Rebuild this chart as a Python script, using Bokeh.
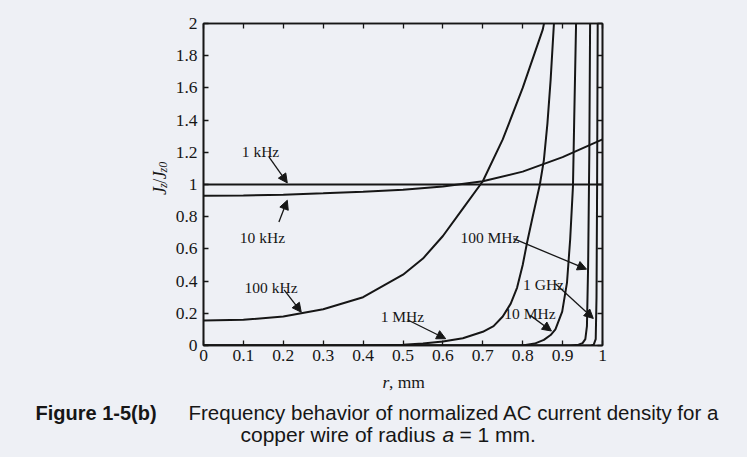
import math
from bokeh.plotting import figure
from bokeh.layouts import column, row
from bokeh.models import (Range1d, LinearAxis, FixedTicker, CustomJSTickFormatter,
                          Arrow, NormalHead, ColumnDataSource)
from bokeh.embed import file_html
from bokeh.resources import INLINE
from bokeh.core.properties import value

# ---------------- data ----------------
x_ticks = [0, 0.1, 0.2, 0.3, 0.4, 0.5, 0.6, 0.7, 0.8, 0.9, 1.0]
x_tick_labels = ["0", "0.1", "0.2", "0.3", "0.4", "0.5", "0.6", "0.7", "0.8", "0.9", "1"]
y_ticks = [0, 0.2, 0.4, 0.6, 0.8, 1.0, 1.2, 1.4, 1.6, 1.8, 2.0]
y_tick_labels = ["0", "0.2", "0.4", "0.6", "0.8", "1", "1.2", "1.4", "1.6", "1.8", "2"]

r_1k = [0.0, 1.0]
j_1k = [1.0, 1.0]

r_10k = [0.0, 0.1, 0.2, 0.3, 0.4, 0.5, 0.6, 0.7, 0.8, 0.9, 1.0]
j_10k = [0.93, 0.932, 0.937, 0.945, 0.955, 0.967, 0.987, 1.02, 1.08, 1.17, 1.28]

r_100k = [0.0, 0.1, 0.2, 0.3, 0.4, 0.5, 0.55, 0.6, 0.65, 0.7, 0.75, 0.8, 0.85, 0.856]
j_100k = [0.155, 0.16, 0.18, 0.225, 0.3, 0.44, 0.54, 0.68, 0.85, 1.02, 1.28, 1.6, 1.96, 2.03]

r_1M = [0.0, 0.4, 0.5, 0.55, 0.6, 0.65, 0.7, 0.727, 0.75, 0.77, 0.786, 0.8, 0.811,
        0.825, 0.843, 0.853, 0.862, 0.87, 0.879]
j_1M = [0.0, 0.0, 0.005, 0.012, 0.025, 0.045, 0.085, 0.12, 0.18, 0.26, 0.36, 0.5, 0.64,
        0.8, 1.0, 1.15, 1.38, 1.65, 2.03]

r_10M = [0.0, 0.8, 0.83, 0.853, 0.87, 0.882, 0.899, 0.911, 0.919, 0.926, 0.929, 0.934]
j_10M = [0.0, 0.0, 0.012, 0.035, 0.065, 0.1, 0.21, 0.39, 0.66, 0.99, 1.39, 2.03]

r_100M = [0.0, 0.92, 0.94, 0.95, 0.957, 0.961, 0.964, 0.967, 0.969]
j_100M = [0.0, 0.0, 0.005, 0.015, 0.04, 0.12, 0.5, 1.2, 2.03]

r_1G = [0.0, 0.97, 0.978, 0.983, 0.985, 0.9865, 0.988]
j_1G = [0.0, 0.0, 0.005, 0.04, 0.3, 1.0, 2.03]

curve_r = [r_1k, r_10k, r_100k, r_1M, r_10M, r_100M, r_1G]
curve_j = [j_1k, j_10k, j_100k, j_1M, j_10M, j_100M, j_1G]

# curve annotations: label text, label anchor (r, J), arrow start, arrow end
ann_text = ["1 kHz", "10 kHz", "100 kHz", "1 MHz", "10 MHz", "1 GHz", "100 MHz"]
ann_x = [0.096, 0.091, 0.103, 0.444, 0.754, 0.801, 0.644]
ann_y = [1.202, 0.672, 0.363, 0.182, 0.199, 0.379, 0.672]
arr_x0 = [0.164, 0.189, 0.202, 0.511, 0.819, 0.882, 0.777]
arr_y0 = [1.171, 0.767, 0.346, 0.160, 0.187, 0.384, 0.664]
arr_x1 = [0.210, 0.210, 0.245, 0.607, 0.872, 0.977, 0.960]
arr_y1 = [1.010, 0.902, 0.207, 0.042, 0.090, 0.168, 0.474]

x_label = ["r", ", mm"]
y_label = ["J", "z", "/", "J", "z0"]
caption_tag = "Figure 1-5(b)"
caption_1 = "Frequency behavior of normalized AC current density for a"
caption_2 = ["copper wire of radius", "a", "= 1 mm."]

# ---------------- styling / layout ----------------
INK = "#161616"
BG = "#eef0f5"
SERIF = "Liberation Serif"
SANS = "Liberation Sans"
W, H = 747, 457
FL, FT, FW, FH = 203, 23, 399, 322   # plot frame box in page pixels
LW = 170                             # width of the strip that holds the y label
TOPH = 372                           # height of the chart row


def blank(width, height):
    f = figure(width=width, height=height, output_backend="svg", toolbar_location=None,
               x_range=Range1d(0, width), y_range=Range1d(0, height),
               min_border=0, x_axis_location=None, y_axis_location=None)
    f.grid.visible = False
    f.outline_line_color = None
    f.background_fill_color = BG
    f.border_fill_color = BG
    return f


def put(f, text, px, py, top, size, font=SERIF, style="normal", angle=0.0):
    # px, py: page pixels (y downwards); top: page y of the strip's top edge
    f.text(x=[px], y=[f.height - (py - top)], text=[text],
           text_font=value(font), text_font_size=size, text_font_style=style,
           text_color=INK, angle=angle, text_align="left", text_baseline="alphabetic")


# main chart
p = figure(width=W - LW, height=TOPH, output_backend="svg", toolbar_location=None,
           x_range=Range1d(0, 1), y_range=Range1d(0, 2),
           min_border_left=FL - LW, min_border_right=W - FL - FW,
           min_border_top=FT, min_border_bottom=TOPH - FT - FH)
p.background_fill_color = BG
p.border_fill_color = BG
p.grid.visible = False
p.outline_line_color = INK
p.outline_line_width = 1.6


def style_axis(ax, ticks, labels=None):
    ax.ticker = FixedTicker(ticks=ticks)
    ax.minor_tick_line_color = None
    ax.major_tick_in = 5
    ax.major_tick_out = 0
    ax.major_tick_line_color = INK
    ax.major_tick_line_width = 1.3
    ax.axis_line_color = INK
    ax.axis_line_width = 1.6
    if labels is None:
        ax.formatter = CustomJSTickFormatter(code="return ''")
        ax.major_label_text_font_size = "0px"
        ax.major_label_standoff = 0
    else:
        ax.major_label_overrides = {t: l for t, l in zip(ticks, labels)}
        ax.major_label_text_font = SERIF
        ax.major_label_text_font_size = "17.5px"
        ax.major_label_text_color = INK


style_axis(p.xaxis[0], x_ticks, x_tick_labels)
p.xaxis[0].major_label_standoff = 4
style_axis(p.yaxis[0], y_ticks, y_tick_labels)
p.yaxis[0].major_label_standoff = 6

top_ax = LinearAxis()
style_axis(top_ax, x_ticks)
p.add_layout(top_ax, "above")
right_ax = LinearAxis()
style_axis(right_ax, y_ticks)
p.add_layout(right_ax, "right")

for rr, jj in zip(curve_r, curve_j):
    p.line(rr, jj, line_color=INK, line_width=2.0)

src = ColumnDataSource(dict(x=ann_x, y=ann_y, t=ann_text))
p.text(x="x", y="y", text="t", source=src, text_font=value(SERIF),
       text_font_size="15.5px", text_color=INK, text_align="left",
       text_baseline="alphabetic")

for xs, ys, xe, ye in zip(arr_x0, arr_y0, arr_x1, arr_y1):
    p.add_layout(Arrow(end=NormalHead(size=9, fill_color=INK, line_color=INK, line_width=1),
                       x_start=xs, y_start=ys, x_end=xe, y_end=ye,
                       line_color=INK, line_width=1.3))

# y label strip (rotated J_z / J_z0)
yl = blank(LW, TOPH)
A = math.pi / 2
put(yl, y_label[0], 159, 198, 0, "18px", style="italic", angle=A)
put(yl, y_label[1], 162.5, 190, 0, "12px", style="italic", angle=A)
put(yl, y_label[2], 159, 185, 0, "18px", angle=A)
put(yl, y_label[3], 159, 180, 0, "18px", style="italic", angle=A)
put(yl, y_label[4], 162.5, 172, 0, "12px", style="italic", angle=A)

# bottom strip: x label and caption
cap = blank(W, H - TOPH)
put(cap, x_label[0], 382, 381, TOPH, "17.5px", style="italic")
put(cap, x_label[1], 388.5, 381, TOPH, "17.5px")
put(cap, caption_tag, 35, 412, TOPH, "20px", font=SANS, style="bold")
put(cap, caption_1, 188, 412, TOPH, "20.5px", font=SANS)
put(cap, caption_2[0], 240, 434, TOPH, "21px", font=SANS)
put(cap, caption_2[1], 442, 434, TOPH, "21px", font=SANS, style="italic")
put(cap, caption_2[2], 459, 434, TOPH, "21px", font=SANS)

layout = column(row(yl, p, spacing=0), cap, spacing=0)

html = file_html(layout, INLINE)
html = html.replace("<head>", "<head><style>body{background:%s;}</style>" % BG, 1)
open("out.html", "w").write(html)
